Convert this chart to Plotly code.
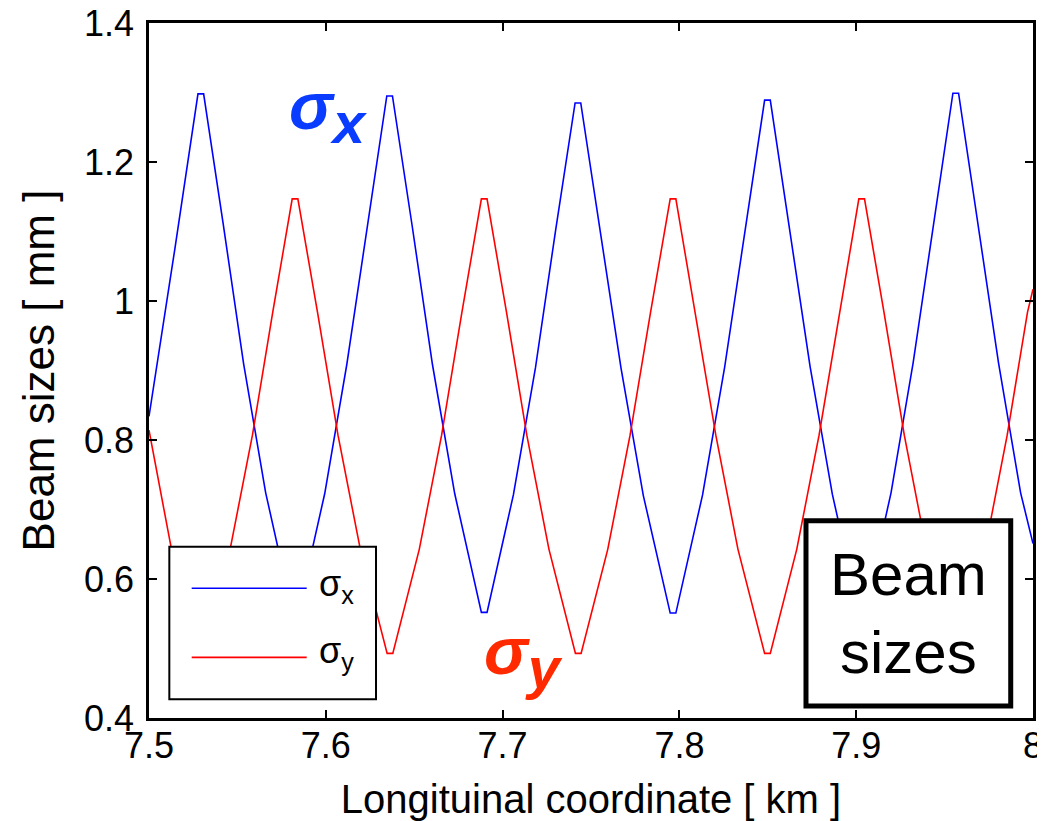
import plotly.graph_objects as go

# ---- data (km, mm) ----
sx_x = [7.5000, 7.5145, 7.5277, 7.5309, 7.5419, 7.5535, 7.5660, 7.5811, 7.5843,
        7.5994, 7.6119, 7.6235, 7.6345, 7.6377, 7.6488, 7.6603, 7.6729, 7.6880,
        7.6912, 7.7061, 7.7186, 7.7300, 7.7410, 7.7442, 7.7553, 7.7670, 7.7796,
        7.7948, 7.7980, 7.8131, 7.8256, 7.8372, 7.8482, 7.8514, 7.8624, 7.8739,
        7.8865, 7.9015, 7.9047, 7.9197, 7.9322, 7.9437, 7.9547, 7.9579, 7.9689,
        7.9805, 7.9930, 8.0000]
sx_y = [0.834, 1.073, 1.298, 1.298, 1.112, 0.910, 0.724, 0.552, 0.552,
        0.723, 0.909, 1.109, 1.295, 1.295, 1.109, 0.909, 0.723, 0.552,
        0.552, 0.721, 0.904, 1.102, 1.285, 1.285, 1.102, 0.903, 0.720,
        0.551, 0.551, 0.721, 0.905, 1.105, 1.289, 1.289, 1.105, 0.906,
        0.722, 0.552, 0.552, 0.724, 0.911, 1.112, 1.299, 1.299, 1.112,
        0.911, 0.724, 0.651]

sy_x = [7.5000, 7.5127, 7.5277, 7.5309, 7.5459, 7.5585, 7.5700, 7.5810, 7.5842,
        7.5953, 7.6069, 7.6195, 7.6347, 7.6379, 7.6529, 7.6655, 7.6770, 7.6880,
        7.6912, 7.7022, 7.7137, 7.7262, 7.7412, 7.7444, 7.7595, 7.7721, 7.7837,
        7.7948, 7.7980, 7.8090, 7.8206, 7.8331, 7.8482, 7.8514, 7.8664, 7.8790,
        7.8906, 7.9015, 7.9047, 7.9157, 7.9272, 7.9397, 7.9547, 7.9579, 7.9729,
        7.9854, 7.9969, 8.0000]
sy_y = [0.814, 0.643, 0.493, 0.493, 0.643, 0.807, 0.984, 1.147, 1.147,
        0.984, 0.807, 0.643, 0.493, 0.493, 0.643, 0.807, 0.984, 1.147,
        1.147, 0.984, 0.807, 0.643, 0.493, 0.493, 0.643, 0.807, 0.984,
        1.147, 1.147, 0.984, 0.807, 0.643, 0.493, 0.493, 0.643, 0.807,
        0.984, 1.147, 1.147, 0.984, 0.807, 0.643, 0.493, 0.493, 0.643,
        0.807, 0.984, 1.017]

x_ticks = [7.5, 7.6, 7.7, 7.8, 7.9, 8.0]
x_ticktext = ["7.5", "7.6", "7.7", "7.8", "7.9", "8"]
y_ticks = [0.4, 0.6, 0.8, 1.0, 1.2, 1.4]
y_ticktext = ["0.4", "0.6", "0.8", "1", "1.2", "1.4"]

FONT = "Liberation Sans, Arial, Helvetica, sans-serif"

fig = go.Figure()
fig.add_trace(go.Scatter(x=sx_x, y=sx_y, mode="lines", name="σx",
                         line=dict(color="#0000ff", width=1.6), showlegend=False))
fig.add_trace(go.Scatter(x=sy_x, y=sy_y, mode="lines", name="σy",
                         line=dict(color="#ff0000", width=1.6), showlegend=False))

axis_common = dict(showline=True, linecolor="black", linewidth=2.5, mirror="allticks",
                   ticks="inside", ticklen=8, tickwidth=1.5, tickcolor="black",
                   showgrid=False, zeroline=False, automargin=False,
                   ticklabeloverflow="allow",
                   tickfont=dict(family=FONT, size=36, color="black"))

fig.update_layout(
    width=1037, height=813,
    margin=dict(l=141, r=12, t=15, b=103, autoexpand=False),
    paper_bgcolor="white", plot_bgcolor="white",
    xaxis=dict(range=[7.5, 8.0], tickvals=x_ticks, ticktext=x_ticktext,
               ticklabelstandoff=-6,
               title=dict(text="Longituinal coordinate [ km ]",
                          font=dict(family=FONT, size=40, color="black"), standoff=21),
               **axis_common),
    yaxis=dict(range=[0.4, 1.4], tickvals=y_ticks, ticktext=y_ticktext,
               ticklabelstandoff=5,
               title=dict(text="Beam sizes [ mm ]",
                          font=dict(family=FONT, size=44, color="black"), standoff=16),
               **axis_common),
)

# legend box (drawn manually)
fig.add_shape(type="rect", xref="paper", yref="paper", x0=0.0230, x1=0.2568,
              y0=0.0269, y1=0.2465, line=dict(color="black", width=2),
              fillcolor="white", layer="above")
fig.add_shape(type="line", xref="paper", yref="paper", x0=0.0483, x1=0.1784,
              y0=0.1866, y1=0.1866, line=dict(color="#0000ff", width=1.6), layer="above")
fig.add_shape(type="line", xref="paper", yref="paper", x0=0.0483, x1=0.1784,
              y0=0.0873, y1=0.0873, line=dict(color="#ff0000", width=1.6), layer="above")
fig.add_annotation(xref="paper", yref="paper", x=0.1900, y=0.190, xanchor="left",
                   yanchor="middle", showarrow=False, text="σ<sub>x</sub>",
                   font=dict(family=FONT, size=36, color="black"))
fig.add_annotation(xref="paper", yref="paper", x=0.1900, y=0.093, xanchor="left",
                   yanchor="middle", showarrow=False, text="σ<sub>y</sub>",
                   font=dict(family=FONT, size=36, color="black"))

# "Beam sizes" box
fig.add_shape(type="rect", xref="paper", yref="paper", x0=0.7432, x1=0.9748,
              y0=0.0173, y1=0.2839, line=dict(color="black", width=5),
              fillcolor="white", layer="above")
fig.add_annotation(xref="paper", yref="paper", x=0.8589, y=0.151, xanchor="center",
                   yanchor="middle", showarrow=False, text="Beam<br>sizes",
                   font=dict(family=FONT, size=60, color="black"))

# big labels
fig.add_annotation(xref="paper", yref="paper", x=0.2030, y=0.872, xanchor="center",
                   yanchor="middle", showarrow=False,
                   text="<b><i>σ<sub><span style='font-size:58px'>x</span></sub></i></b>",
                   font=dict(family=FONT, size=66, color="#0a3cff"))
fig.add_annotation(xref="paper", yref="paper", x=0.4242, y=0.0878, xanchor="center",
                   yanchor="middle", showarrow=False,
                   text="<b><i>σ<sub><span style='font-size:58px'>y</span></sub></i></b>",
                   font=dict(family=FONT, size=66, color="#ff2a00"))

fig.write_html("out.html")
